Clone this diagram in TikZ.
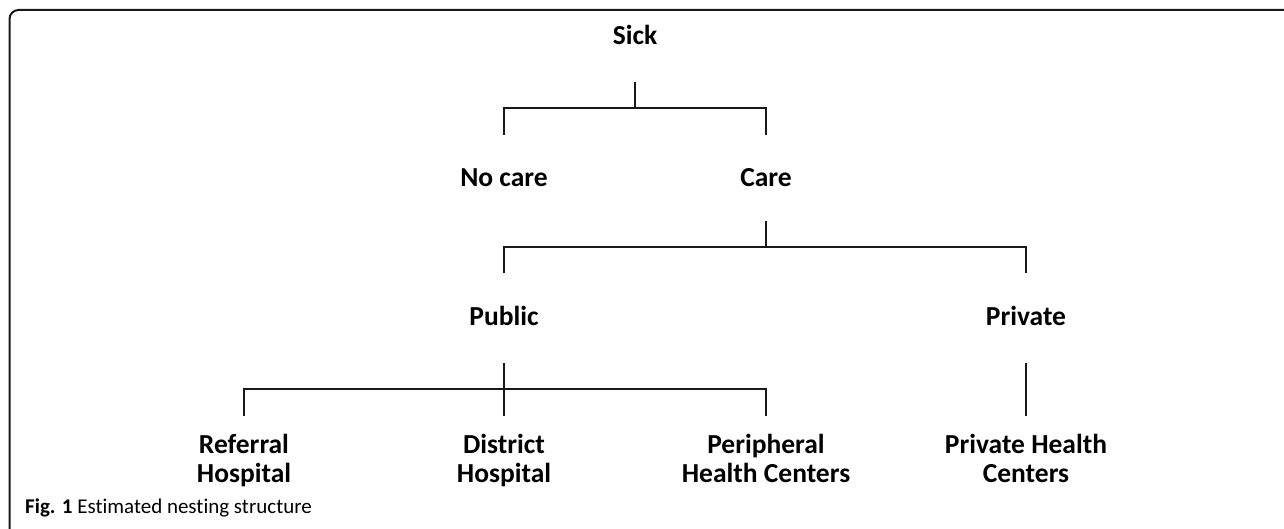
\documentclass[tikz,border=0pt]{standalone}
\usepackage{fontspec}
\setmainfont{Carlito}[Ligatures=NoCommon]
\begin{document}
\begin{tikzpicture}[x=1pt,y=-1pt,
  lbl/.style={font=\fontsize{27.5}{29}\selectfont\bfseries, align=center, inner sep=0pt, anchor=base},
  link/.style={line width=2pt, draw=black!90}]
\useasboundingbox (0,0) rectangle (1284,529);
\clip (0,0) rectangle (1284,529);
% open frame: top edge and left edge with a rounded corner
\draw[line width=2pt, rounded corners=9pt, black!90] (1300,10) -- (9.5,10) -- (9.5,545);

% labels (base anchor = baseline of the last line)
\node[lbl] (sick)     at (635,45)  {Sick};
\node[lbl] (nocare)   at (504,187) {No care};
\node[lbl] (care)     at (766,187) {Care};
\node[lbl] (public)   at (504,325) {Public};
\node[lbl] (private)  at (1026,325) {Private};
\node[lbl] (referral) at (244,482) {Referral\\Hospital};
\node[lbl] (district) at (504,482) {District\\Hospital};
\node[lbl] (periph)   at (766,482) {Peripheral\\Health Centers};
\node[lbl] (privhc)   at (1026,482) {Private Health\\Centers};

% junction points of the tree
\coordinate (sickTop) at (sick |- 0,82);
\coordinate (sickBar) at (sick |- 0,108);
\coordinate (careTop) at (care |- 0,221);
\coordinate (careBar) at (care |- 0,247);
\coordinate (pubTop)  at (public |- 0,363);
\coordinate (pubBar)  at (public |- 0,389);
\coordinate (privTop) at (private |- 0,363);

% Sick -> No care / Care
\draw[link] (sickTop) -- (sickBar);
\draw[link] (nocare |- 0,135) -- (nocare |- sickBar) -- (care |- sickBar) -- (care |- 0,135);
% Care -> Public / Private
\draw[link] (careTop) -- (careBar);
\draw[link] (public |- 0,273) -- (public |- careBar) -- (private |- careBar) -- (private |- 0,273);
% Public -> Referral / District / Peripheral
\draw[link] (pubTop) -- (district |- 0,416);
\draw[link] (referral |- 0,416) -- (referral |- pubBar) -- (periph |- pubBar) -- (periph |- 0,416);
% Private -> Private Health Centers
\draw[link] (privTop) -- (privhc |- 0,416);

% caption
\node[anchor=base west, inner sep=0pt, font=\fontsize{21}{24}\selectfont] (caption) at (25,513)
  {\textbf{Fig. 1} Estimated nesting structure};
\end{tikzpicture}
\end{document}
